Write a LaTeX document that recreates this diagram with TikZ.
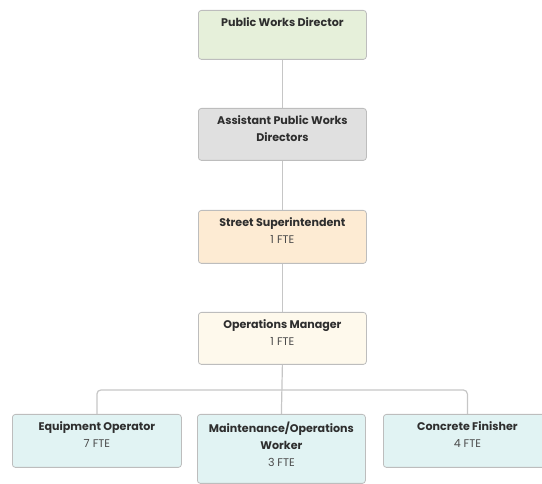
\documentclass[tikz,border=0pt]{standalone}
\usepackage{fontspec}
\setmainfont{Poppins}
\begin{document}
\definecolor{linegray}{HTML}{C6C6C6}
\definecolor{boxedge}{HTML}{BDBDBD}
\definecolor{txtdark}{HTML}{2E2E2E}
\definecolor{txtsoft}{HTML}{4A4A4A}
\definecolor{fgreen}{HTML}{E6F0DA}
\definecolor{fgray}{HTML}{E0E0E0}
\definecolor{fpeach}{HTML}{FDEBD3}
\definecolor{fcream}{HTML}{FEF9EC}
\definecolor{fteal}{HTML}{E1F3F3}
\begin{tikzpicture}[x=1pt,y=-1pt,
  orgbox/.style={draw=boxedge,line width=0.8pt,rounded corners=3pt,anchor=north west,inner sep=0pt,minimum width=#1},
  orgbox/.default=168pt,
  label/.style={anchor=north,align=center,inner sep=0pt,font=\fontsize{11.1}{17}\selectfont,text=txtdark},
  link/.style={draw=linegray,line width=1.2pt}]
\useasboundingbox (0,0) rectangle (542,484);
% boxes
\node[orgbox,fill=fgreen,minimum height=49pt] (b1) at (198,10) {};
\node[orgbox,fill=fgray,minimum height=52pt] (b2) at (198,108) {};
\node[orgbox,fill=fpeach,minimum height=53pt] (b3) at (198,210) {};
\node[orgbox,fill=fcream,minimum height=52pt] (b4) at (198,312) {};
\node[orgbox=169pt,fill=fteal,minimum height=53pt] (b5) at (12,414) {};
\node[orgbox,fill=fteal,minimum height=69pt] (b6) at (197,414) {};
\node[orgbox,fill=fteal,minimum height=53pt] (b7) at (383,414) {};
% texts
\node[label] (t1) at ([yshift=-7.5pt]b1.north) {\textbf{Public Works Director}};
\node[label] (t2) at ([yshift=-7.5pt]b2.north) {\textbf{Assistant Public Works}\\\textbf{Directors}};
\node[label] (t3) at ([yshift=-7.5pt]b3.north) {\textbf{Street Superintendent}\\{\color{txtsoft}1 FTE}};
\node[label] (t4) at ([yshift=-7.5pt]b4.north) {\textbf{Operations Manager}\\{\color{txtsoft}1 FTE}};
\node[label] (t5) at ([yshift=-7.5pt]b5.north) {\textbf{Equipment Operator}\\{\color{txtsoft}7 FTE}};
\node[label] (t6) at ([yshift=-7.5pt]b6.north) {\textbf{Maintenance/Operations}\\\textbf{Worker}\\{\color{txtsoft}3 FTE}};
\node[label] (t7) at ([yshift=-7.5pt]b7.north) {\textbf{Concrete Finisher}\\{\color{txtsoft}4 FTE}};
% connectors
\coordinate (j) at (282,390);
\draw[link] (b1.south) -- (b2.north);
\draw[link] (b2.south) -- (b3.north);
\draw[link] (b3.south) -- (b4.north);
\draw[link] (b4.south) -- (b6.north);
\draw[link,rounded corners=4pt] (j) -| (b5.north);
\draw[link,rounded corners=4pt] (j) -| (b7.north);
\end{tikzpicture}
\end{document}
